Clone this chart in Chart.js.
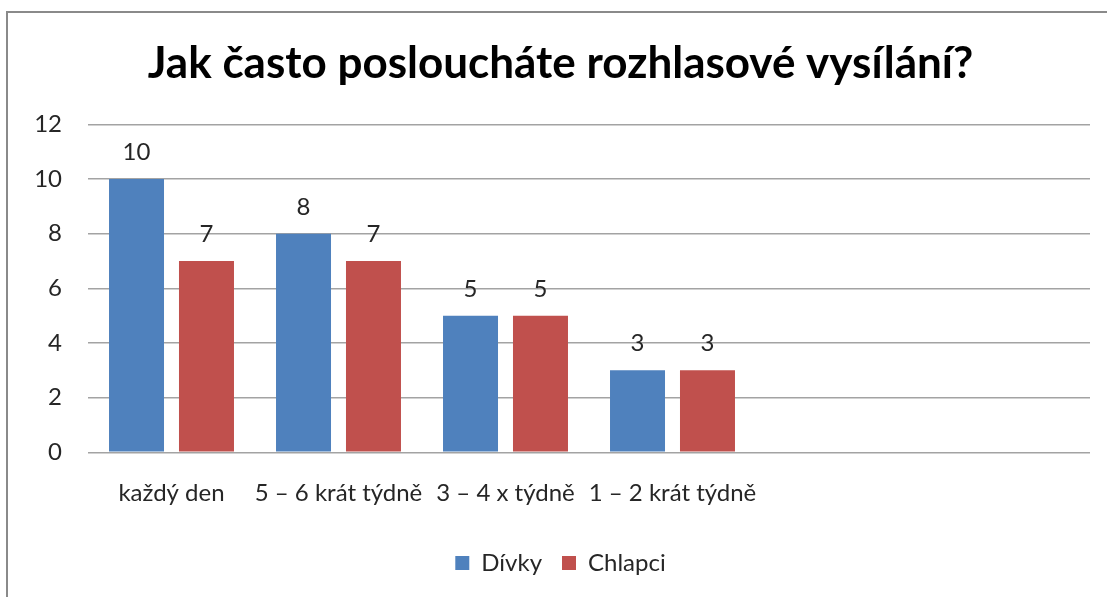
<!DOCTYPE html>
<html>
<head>
<meta charset="utf-8">
<script src="https://cdn.jsdelivr.net/npm/chart.js@4.4.1/dist/chart.umd.min.js"></script>
<style>
  html, body { margin: 0; padding: 0; background: #fff; overflow: hidden; width: 1107px; height: 597px; }
  #frame { position: absolute; left: 6px; top: 11px; width: 1200px; height: 700px; border: 2px solid #8a8a8a; box-sizing: border-box; }
  #wrap { position: absolute; left: 0; top: 0; width: 1107px; height: 597px; }
</style>
</head>
<body>
<div id="frame"></div>
<div id="wrap"><canvas id="c" width="1107" height="597"></canvas></div>
<script>
const titleText = "Jak často posloucháte rozhlasové vysílání?";
const categories = ["každý den", "5 – 6 krát týdně", "3 – 4 x týdně", "1 – 2 krát týdně", "", ""];
const divky = [10, 8, 5, 3, null, null];
const chlapci = [7, 7, 5, 3, null, null];
const yTicks = [0, 2, 4, 6, 8, 10, 12];

const FONT = "Lato, 'Open Sans', sans-serif";
const TEXT = "#262626";

const valueLabels = {
  id: "valueLabels",
  afterDatasetsDraw(chart) {
    const ctx = chart.ctx;
    ctx.save();
    ctx.font = "24px " + FONT;
    ctx.fillStyle = TEXT;
    ctx.textAlign = "center";
    ctx.textBaseline = "alphabetic";
    chart.data.datasets.forEach((ds, i) => {
      const meta = chart.getDatasetMeta(i);
      meta.data.forEach((bar, j) => {
        const v = ds.data[j];
        if (v === null || v === undefined) return;
        ctx.fillText(String(v), bar.x, bar.y - 19);
      });
    });
    ctx.restore();
  }
};

new Chart(document.getElementById("c"), {
  type: "bar",
  data: {
    labels: categories,
    datasets: [
      { label: "Dívky", data: divky, backgroundColor: "#4F81BD" },
      { label: "Chlapci", data: chlapci, backgroundColor: "#C0504D" }
    ]
  },
  options: {
    responsive: false,
    animation: false,
    events: [],
    layout: { padding: { left: 31, right: 17, top: 0, bottom: 12 } },
    datasets: { bar: { categoryPercentage: 0.838, barPercentage: 0.786 } },
    scales: {
      x: {
        afterFit(scale) { scale.height = 78.7; },
        grid: { display: false, drawTicks: false },
        border: { display: false },
        ticks: { color: TEXT, font: { family: FONT, size: 24 }, padding: 27, maxRotation: 0, autoSkip: false }
      },
      y: {
        min: 0, max: 12,
        afterFit(scale) { scale.width = 57; },
        afterBuildTicks(scale) { scale.ticks = yTicks.map(v => ({ value: v })); },
        grid: { color: "#a3a3a3", lineWidth: 1.5, drawTicks: false },
        border: { display: false },
        ticks: { color: TEXT, font: { family: FONT, size: 24 }, padding: 26 }
      }
    },
    plugins: {
      title: {
        display: true,
        text: titleText,
        color: "#000",
        font: { family: FONT, size: 44, weight: "bold" },
        padding: { top: 37.6, bottom: 33.9 }
      },
      legend: {
        display: true,
        position: "bottom",
        labels: { color: TEXT, font: { family: FONT, size: 24 }, boxWidth: 14, boxHeight: 14, padding: 20 }
      },
      tooltip: { enabled: false }
    }
  },
  plugins: [valueLabels]
});
</script>
</body>
</html>
